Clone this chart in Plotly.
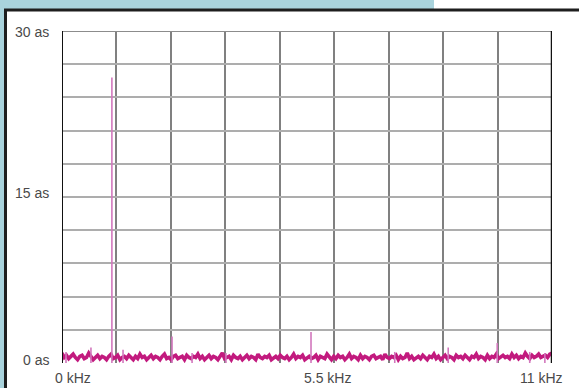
import numpy as np
import plotly.graph_objects as go

# Spectrum noise floor, one reading every 0.05 kHz from 0 to 11 kHz (level in as)
noise_level = [
    0.9, 0.5, 0.7, 0.4, 0.6, 0.8, 0.5, 0.3, 0.6, 0.7, 0.4, 0.5, 0.9, 0.6, 0.3, 0.5, 0.7, 0.4, 0.6, 0.5,
    0.3, 0.6, 0.8, 0.4, 0.5, 0.7, 0.3, 0.5, 0.6, 0.4, 0.7, 0.5, 0.3, 0.6, 0.4, 0.8, 0.5, 0.6, 0.3, 0.5,
    0.7, 0.4, 0.6, 0.5, 0.3, 0.6, 0.8, 0.4, 0.5, 0.3, 0.6, 0.7, 0.4, 0.5, 0.6, 0.3, 0.7, 0.5, 0.4, 0.6,
    0.5, 0.8, 0.4, 0.6, 0.3, 0.5, 0.7, 0.4, 0.6, 0.5, 0.3, 0.6, 0.9, 0.4, 0.5, 0.6, 0.3, 0.7, 0.5, 0.4,
    0.6, 0.3, 0.5, 0.7, 0.4, 0.6, 0.5, 0.3, 0.8, 0.5, 0.4, 0.6, 0.5, 0.7, 0.3, 0.5, 0.6, 0.4, 0.7, 0.5,
    0.4, 0.6, 0.3, 0.5, 0.8, 0.4, 0.6, 0.5, 0.7, 0.3, 0.5, 0.6, 0.4, 0.5, 0.7, 0.3, 0.6, 0.5, 0.4, 0.8,
    0.5, 0.3, 0.6, 0.4, 0.7, 0.5, 0.6, 0.3, 0.5, 0.8, 0.4, 0.6, 0.5, 0.3, 0.7, 0.4, 0.6, 0.5, 0.3, 0.6,
    0.7, 0.4, 0.5, 0.6, 0.3, 0.8, 0.5, 0.4, 0.6, 0.5, 0.7, 0.3, 0.6, 0.4, 0.5, 0.9, 0.4, 0.6, 0.3, 0.5,
    0.6, 0.4, 0.7, 0.5, 0.3, 0.6, 0.5, 0.8, 0.4, 0.6, 0.3, 0.5, 0.7, 0.4, 0.6, 0.5, 0.3, 0.7, 0.5, 0.6,
    0.4, 0.7, 0.5, 0.3, 0.6, 0.5, 0.8, 0.4, 0.6, 0.5, 0.3, 0.7, 0.4, 0.6, 0.5, 0.8, 0.4, 0.6, 0.7, 0.5,
    0.6, 0.4, 0.8, 0.5, 0.7, 0.4, 0.6, 0.5, 0.9, 0.6, 0.4, 0.7, 0.5, 0.6, 0.8, 0.5, 0.6, 0.7, 0.5, 0.8,
    0.9,
]
noise_freq = np.linspace(0, 11, len(noise_level))

# Discrete spectral lines (kHz, as)
peak_freq = [0.09, 0.65, 1.12, 1.37, 2.47, 2.92, 3.68, 5.59, 7.47, 8.67, 9.77, 10.50, 10.84]
peak_level = [1.0, 1.4, 25.8, 1.2, 2.4, 0.9, 0.9, 2.8, 1.0, 1.4, 1.8, 1.0, 0.9]

y_labels = ["0 as", "15 as", "30 as"]
y_label_vals = [0, 15, 30]
x_labels = ["0 kHz", "5.5 kHz", "11 kHz"]
x_label_vals = [0, 5.5, 11]

X_MAX, Y_MAX = 11, 30
W, H = 579, 388
ML, MR, MT, MB = 62, 27, 31, 25
PW, PH = W - ML - MR, H - MT - MB


def px_x(px):
    return (px - ML) / PW


def px_y(py):
    return (H - MB - py) / PH


INK = "#c21a7e"
LINE_INK = "#d277bd"

fig = go.Figure()

fig.add_trace(go.Scatter(
    x=noise_freq, y=noise_level, mode="lines",
    line=dict(color=INK, width=3.6), hoverinfo="skip", showlegend=False,
))

sx, sy = [], []
for f, v in zip(peak_freq, peak_level):
    sx += [f, f, None]
    sy += [0, v, None]
fig.add_trace(go.Scatter(
    x=sx, y=sy, mode="lines",
    line=dict(color=LINE_INK, width=1.6), hoverinfo="skip", showlegend=False,
))

shapes = [
    # surrounding panel: blue backdrop and dark frame
    dict(type="rect", xref="paper", yref="paper", x0=px_x(0), x1=px_x(5), y0=px_y(H), y1=px_y(0),
         fillcolor="#a9d3dc", line=dict(width=0), layer="below"),
    dict(type="rect", xref="paper", yref="paper", x0=px_x(0), x1=px_x(434), y0=px_y(9), y1=px_y(0),
         fillcolor="#a9d3dc", line=dict(width=0), layer="below"),
    dict(type="line", xref="paper", yref="paper", x0=px_x(5.5), x1=px_x(5.5), y0=px_y(H), y1=px_y(9),
         line=dict(color="#1e1e1e", width=3)),
    dict(type="line", xref="paper", yref="paper", x0=px_x(4), x1=px_x(W), y0=px_y(10), y1=px_y(10),
         line=dict(color="#1e1e1e", width=3)),
    # plot frame
    dict(type="line", xref="x", yref="y", x0=0, x1=X_MAX, y0=Y_MAX, y1=Y_MAX,
         line=dict(color="#8c8c8c", width=2)),
    dict(type="line", xref="x", yref="y", x0=0, x1=0, y0=0, y1=Y_MAX,
         line=dict(color="#111111", width=2)),
    dict(type="line", xref="x", yref="y", x0=X_MAX, x1=X_MAX, y0=0, y1=Y_MAX,
         line=dict(color="#111111", width=2.5)),
]

annotations = []
y_shift = {0: 3, 15: 4, 30: -1}
for txt, v in zip(y_labels, y_label_vals):
    annotations.append(dict(
        text=txt, x=px_x(51), xref="paper", y=v, yref="y", yshift=y_shift[v],
        xanchor="right", yanchor="middle", showarrow=False,
        font=dict(family="Liberation Sans, Arial", size=14, color="#4a4a4a"),
    ))
x_cfg = {0: ("left", -9), 5.5: ("left", -5), 11: ("right", 13)}
for txt, v in zip(x_labels, x_label_vals):
    anchor, shift = x_cfg[v]
    annotations.append(dict(
        text=txt, x=v, xref="x", y=px_y(378), yref="paper", xshift=shift,
        xanchor=anchor, yanchor="middle", showarrow=False,
        font=dict(family="Liberation Sans, Arial", size=14, color="#4a4a4a"),
    ))

fig.update_layout(
    width=W, height=H,
    margin=dict(l=ML, r=MR, t=MT, b=MB, pad=0),
    paper_bgcolor="white", plot_bgcolor="white",
    shapes=shapes, annotations=annotations,
    showlegend=False,
)
fig.update_xaxes(
    range=[0, X_MAX], tick0=0, dtick=X_MAX / 9, showticklabels=False, ticks="",
    showgrid=True, gridcolor="#808080", gridwidth=2, zeroline=False, showline=False,
    fixedrange=True,
)
fig.update_yaxes(
    range=[0, Y_MAX], tick0=0, dtick=3, showticklabels=False, ticks="",
    showgrid=True, gridcolor="#adadad", gridwidth=1.6, zeroline=False, showline=False,
    fixedrange=True,
)

fig.write_html("out.html", config={"displayModeBar": False})
